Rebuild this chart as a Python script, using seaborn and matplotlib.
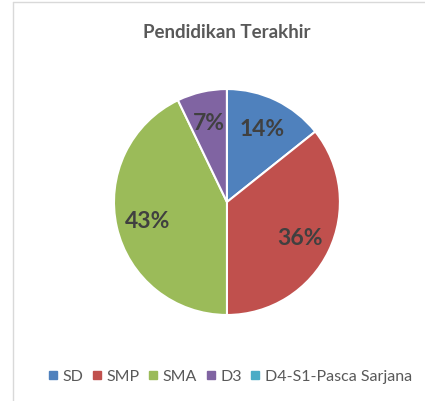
import matplotlib
matplotlib.use("Agg")
import matplotlib.pyplot as plt
from matplotlib.lines import Line2D
import seaborn as sns

categories = ["SD", "SMP", "SMA", "D3", "D4-S1-Pasca Sarjana"]
counts = [2, 5, 6, 1, 0]
colors = ["#4F81BD", "#C0504D", "#9BBB59", "#8064A2", "#4BACC6"]

sns.set_theme(style="white")
plt.rcParams["font.family"] = ["Lato", "DejaVu Sans"]

fig = plt.figure(figsize=(4.25, 4.02), dpi=100)
fig.patch.set_facecolor("white")

# chart frame (cropped on right / bottom)
fig.add_artist(Line2D([13 / 425, 13 / 425], [0, 1 - 3 / 402], transform=fig.transFigure, color="#D9D9D9", lw=1))
fig.add_artist(Line2D([13 / 425, 1], [1 - 3 / 402, 1 - 3 / 402], transform=fig.transFigure, color="#D9D9D9", lw=1))

ax = fig.add_axes([0.534 - 0.2706, 0.495 - 0.2861, 0.5412, 0.5722])


def pct(p):
    return "" if p < 0.5 else f"{p:.0f}%"


wedges, texts, autotexts = ax.pie(
    counts, colors=colors, startangle=90, counterclock=False, autopct=pct,
    pctdistance=0.72, wedgeprops=dict(edgecolor="white", linewidth=1.5),
    textprops=dict(color="#404040", fontsize=16.5, fontweight="bold"),
)
ax.set_xlim(-1.018, 1.018)
ax.set_ylim(-1.018, 1.018)
ax.set_aspect("equal")
ax.axis("off")

fig.text(0.534, 1 - 33 / 402, "Pendidikan Terakhir", ha="center", va="center",
         fontsize=13.5, fontweight="bold", color="#595959")

handles = [Line2D([], [], marker="s", linestyle="", markersize=5.5, color=c) for c in colors]
fig.legend(handles, categories, loc="center", bbox_to_anchor=(0.541, 1 - 377 / 402), ncol=5,
           frameon=False, handlelength=0.6, handletextpad=0.3, columnspacing=0.55,
           fontsize=11.5, labelcolor="#595959")

fig.savefig("out.png", dpi=100)
